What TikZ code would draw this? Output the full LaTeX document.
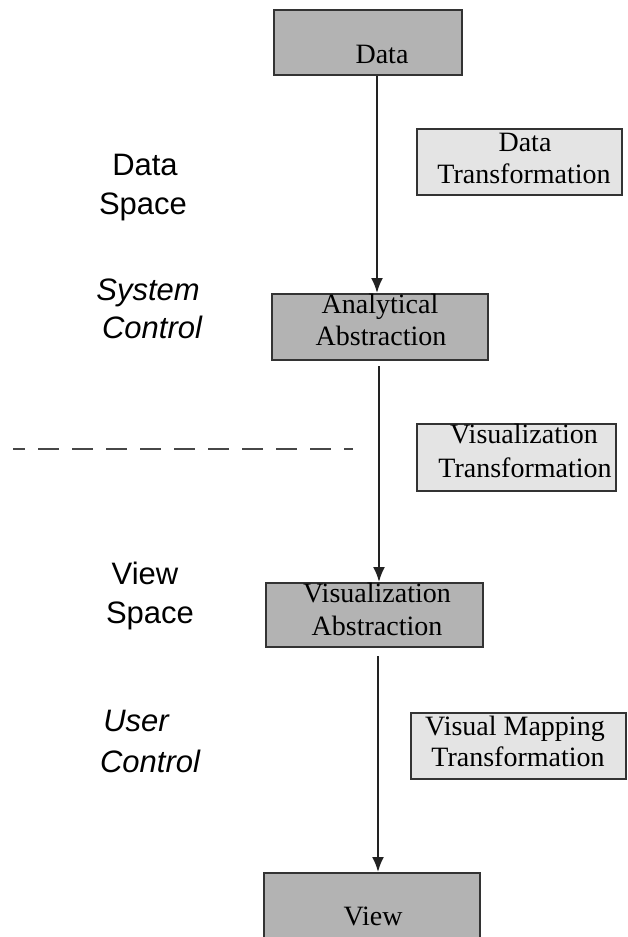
\documentclass[tikz,border=0pt]{standalone}
\usepackage{fontspec}
\setmainfont{Liberation Serif}
\newfontfamily\labelfont{Liberation Sans}
\usetikzlibrary{arrows.meta}
\definecolor{boxdark}{HTML}{B3B3B3}
\definecolor{boxlight}{HTML}{E4E4E4}
\definecolor{edgecol}{HTML}{333333}
\definecolor{flowcol}{HTML}{222222}
\begin{document}
\begin{tikzpicture}[x=1pt,y=-1pt,
  stage/.style={draw=edgecol, line width=2pt, fill=boxdark, inner sep=0pt},
  transf/.style={draw=edgecol, line width=2pt, fill=boxlight, inner sep=0pt},
  btxt/.style={font=\fontsize{28}{32}\selectfont, anchor=base, inner sep=0pt},
  ltxt/.style={font=\labelfont\fontsize{31}{40}\selectfont, anchor=base, inner sep=0pt},
  itxt/.style={font=\labelfont\itshape\fontsize{31}{40}\selectfont, anchor=base, inner sep=0pt},
  flow/.style={draw=flowcol, line width=2pt, -{Latex[length=15pt,width=12pt]}},
  sep/.style={draw=edgecol!90, line width=2pt, dash pattern=on 21pt off 13pt, dash phase=9pt}]
\useasboundingbox (0,0) rectangle (628,937);
\clip (0,0) rectangle (628,937);
\fill[white] (0,0) rectangle (628,937);

% stage boxes
\node[stage, minimum width=188pt, minimum height=65pt] (data) at (368,42.5) {};
\node[stage, minimum width=216pt, minimum height=66pt] (aa) at (380,327) {};
\node[stage, minimum width=217pt, minimum height=64pt] (va) at (374.5,615) {};
\node[stage, minimum width=216pt, minimum height=80pt] (view) at (372,913) {};

% transformation boxes
\node[transf, minimum width=205pt, minimum height=66pt] (dt) at (519.5,162) {};
\node[transf, minimum width=199pt, minimum height=67pt] (vt) at (516.5,457.5) {};
\node[transf, minimum width=215pt, minimum height=66pt] (vmt) at (518.5,746) {};

% box texts
\node[btxt] (tdata) at (382,63) {Data};
\node[btxt] (tdt1) at (525,151) {Data};
\node[btxt] (tdt2) at (524,183) {Transformation};
\node[btxt] (taa1) at (380,313) {Analytical};
\node[btxt] (taa2) at (381,345) {Abstraction};
\node[btxt] (tvt1) at (524,443) {Visualization};
\node[btxt] (tvt2) at (525,477) {Transformation};
\node[btxt] (tva1) at (377,602) {Visualization};
\node[btxt] (tva2) at (377,635) {Abstraction};
\node[btxt] (tvmt1) at (515,735) {Visual Mapping};
\node[btxt] (tvmt2) at (518,766) {Transformation};
\node[btxt] (tview) at (373,925) {View};

% left labels
\node[ltxt] (ds1) at (145,175) {Data};
\node[ltxt] (ds2) at (143,214) {Space};
\node[itxt] (sc1) at (148,300) {System};
\node[itxt] (sc2) at (152,338) {Control};
\node[ltxt] (vs1) at (145,584) {View};
\node[ltxt] (vs2) at (150,623) {Space};
\node[itxt] (uc1) at (136,731) {User};
\node[itxt] (uc2) at (150,772) {Control};

% flow arrows
\coordinate (col1) at (377,0);
\coordinate (col2) at (379,0);
\coordinate (col3) at (378,0);
\draw[flow] (data.south -| col1) -- (aa.north -| col1);
\draw[flow, shorten <=5pt] (aa.south -| col2) -- (va.north -| col2);
\draw[flow, shorten <=8pt] (va.south -| col3) -- (view.north -| col3);

% separator
\coordinate (sepL) at (13,449);
\coordinate (sepR) at (353,449);
\draw[sep] (sepL) -- (sepR);
\end{tikzpicture}
\end{document}
